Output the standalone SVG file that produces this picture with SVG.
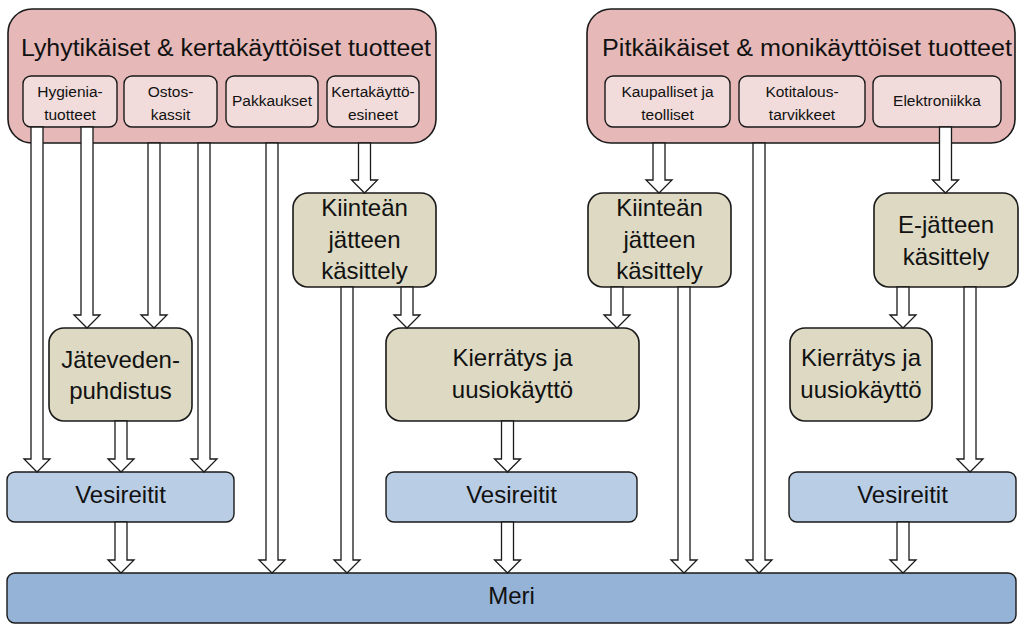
<svg xmlns="http://www.w3.org/2000/svg" width="1023" height="630" viewBox="0 0 1023 630">
<style>
.big{fill:#e6b9b8;stroke:#1a1a1a;stroke-width:1.6}
.sub{fill:#f2dcdb;stroke:#1a1a1a;stroke-width:1.4}
.proc{fill:#ddd9c3;stroke:#1a1a1a;stroke-width:1.6}
.ves{fill:#b9cde5;stroke:#1a1a1a;stroke-width:1.4}
.meri{fill:#95b3d7;stroke:#1a1a1a;stroke-width:1.4}
.arr{fill:#ffffff;stroke:#1a1a1a;stroke-width:1.3;stroke-linejoin:miter}
text{font-family:"Liberation Sans",Arial,sans-serif;fill:#111;text-anchor:middle}
.t1{font-size:23px}
.t2{font-size:24px}
.t3{font-size:15.5px}
</style>
<rect width="1023" height="630" fill="#ffffff"/>
<g id="left-products">
<rect class="big" x="8" y="9" width="428" height="134" rx="24"/>
<text class="t1" x="226" y="56" textLength="410" lengthAdjust="spacingAndGlyphs">Lyhytikäiset &amp; kertakäyttöiset tuotteet</text>
</g>
<g id="hygienia">
<rect class="sub" x="23" y="76" width="94" height="51" rx="8"/>
<text class="t3" x="70" y="97">Hygienia-</text>
<text class="t3" x="70" y="120">tuotteet</text>
</g>
<g id="ostos">
<rect class="sub" x="124" y="76" width="93" height="51" rx="8"/>
<text class="t3" x="170.5" y="97">Ostos-</text>
<text class="t3" x="170.5" y="120">kassit</text>
</g>
<g id="pakkaukset">
<rect class="sub" x="226" y="76" width="92" height="51" rx="8"/>
<text class="t3" x="272" y="106">Pakkaukset</text>
</g>
<g id="kertakaytto">
<rect class="sub" x="327" y="76" width="92" height="51" rx="8"/>
<text class="t3" x="373" y="97">Kertakäyttö-</text>
<text class="t3" x="373" y="120">esineet</text>
</g>
<g id="right-products">
<rect class="big" x="587" y="9" width="428" height="134" rx="24"/>
<text class="t1" x="807" y="56" textLength="410" lengthAdjust="spacingAndGlyphs">Pitkäikäiset &amp; monikäyttöiset tuotteet</text>
</g>
<g id="kaupalliset">
<rect class="sub" x="605" y="76" width="125" height="51" rx="8"/>
<text class="t3" x="667.5" y="97">Kaupalliset ja</text>
<text class="t3" x="667.5" y="120">teolliset</text>
</g>
<g id="kotitalous">
<rect class="sub" x="739" y="76" width="126" height="51" rx="8"/>
<text class="t3" x="802" y="97">Kotitalous-</text>
<text class="t3" x="802" y="120">tarvikkeet</text>
</g>
<g id="elektroniikka">
<rect class="sub" x="873" y="76" width="128" height="51" rx="8"/>
<text class="t3" x="937" y="106">Elektroniikka</text>
</g>
<g id="kiintea1">
<rect class="proc" x="293" y="193" width="143" height="94" rx="15"/>
<text class="t2" x="364.5" y="216">Kiinteän</text>
<text class="t2" x="364.5" y="248">jätteen</text>
<text class="t2" x="364.5" y="279">käsittely</text>
</g>
<g id="kiintea2">
<rect class="proc" x="588" y="193" width="143" height="94" rx="15"/>
<text class="t2" x="659.5" y="216">Kiinteän</text>
<text class="t2" x="659.5" y="248">jätteen</text>
<text class="t2" x="659.5" y="279">käsittely</text>
</g>
<g id="ejate">
<rect class="proc" x="874" y="193" width="144" height="94" rx="15"/>
<text class="t2" x="946" y="233">E-jätteen</text>
<text class="t2" x="946" y="265">käsittely</text>
</g>
<g id="jatevesi">
<rect class="proc" x="49" y="328" width="143" height="93" rx="15"/>
<text class="t2" x="120.5" y="368">Jäteveden-</text>
<text class="t2" x="120.5" y="399">puhdistus</text>
</g>
<g id="kierratys1">
<rect class="proc" x="386" y="328" width="253" height="93" rx="15"/>
<text class="t2" x="512.5" y="366">Kierrätys ja</text>
<text class="t2" x="512.5" y="398">uusiokäyttö</text>
</g>
<g id="kierratys2">
<rect class="proc" x="790" y="328" width="142" height="93" rx="15"/>
<text class="t2" x="861" y="366">Kierrätys ja</text>
<text class="t2" x="861" y="398">uusiokäyttö</text>
</g>
<g id="vesireitit1">
<rect class="ves" x="7" y="472" width="227" height="50" rx="8"/>
<text class="t2" x="120.5" y="503">Vesireitit</text>
</g>
<g id="vesireitit2">
<rect class="ves" x="386" y="472" width="251" height="50" rx="8"/>
<text class="t2" x="511.5" y="503">Vesireitit</text>
</g>
<g id="vesireitit3">
<rect class="ves" x="789" y="472" width="227" height="50" rx="8"/>
<text class="t2" x="902.5" y="503">Vesireitit</text>
</g>
<g id="meri">
<rect class="meri" x="7" y="573" width="1009" height="50" rx="8"/>
<text class="t2" x="511.5" y="604">Meri</text>
</g>
<g id="connectors">
<path class="arr" d="M31 127V459H24L37 472L50 459H43V127Z"/>
<path class="arr" d="M81 127V315H74L87 328L100 315H93V127Z"/>
<path class="arr" d="M148 143V315H141L154 328L167 315H160V143Z"/>
<path class="arr" d="M198 143V459H191L204 472L217 459H210V143Z"/>
<path class="arr" d="M266 143V560H259L272 573L285 560H278V143Z"/>
<path class="arr" d="M358.5 143V180H351.5L364.5 193L377.5 180H370.5V143Z"/>
<path class="arr" d="M341 287V560H334L347 573L360 560H353V287Z"/>
<path class="arr" d="M401 287V315H394L407 328L420 315H413V287Z"/>
<path class="arr" d="M115 421V459H108L121 472L134 459H127V421Z"/>
<path class="arr" d="M115 522V560H108L121 573L134 560H127V522Z"/>
<path class="arr" d="M653 143V180H646L659 193L672 180H665V143Z"/>
<path class="arr" d="M611 287V315H604L617 328L630 315H623V287Z"/>
<path class="arr" d="M678 287V560H671L684 573L697 560H690V287Z"/>
<path class="arr" d="M753 143V560H746L759 573L772 560H765V143Z"/>
<path class="arr" d="M939.5 127V180H932.5L945.5 193L958.5 180H951.5V127Z"/>
<path class="arr" d="M897 287V315H890L903 328L916 315H909V287Z"/>
<path class="arr" d="M964 287V459H957L970 472L983 459H976V287Z"/>
<path class="arr" d="M501.5 421V459H494.5L507.5 472L520.5 459H513.5V421Z"/>
<path class="arr" d="M501.5 522V560H494.5L507.5 573L520.5 560H513.5V522Z"/>
<path class="arr" d="M897 522V560H890L903 573L916 560H909V522Z"/>
</g>
</svg>
